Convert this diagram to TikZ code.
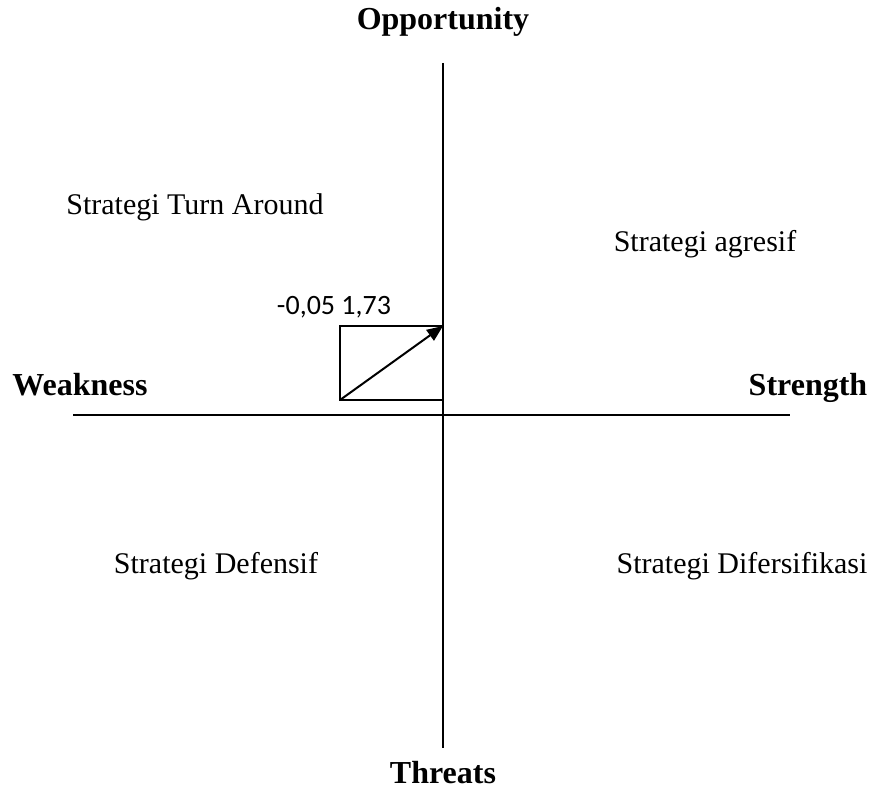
\documentclass[tikz,border=0pt]{standalone}
\usepackage{fontspec}
\setmainfont{Liberation Serif}
\newfontfamily\numfont{Carlito}
\usetikzlibrary{arrows.meta}
\tikzset{
  axis/.style={line width=1pt},
  quad/.style={font=\fontsize{15}{17}\selectfont},
  pole/.style={font=\fontsize{16}{18}\selectfont\bfseries}
}

\begin{document}
\begin{tikzpicture}[x=0.5pt,y=-0.5pt]
  \useasboundingbox (0,0) rectangle (877,791);
  % axes
  \coordinate (top) at (443,63);
  \coordinate (bot) at (443,748);
  \coordinate (lft) at (73,415);
  \coordinate (rgt) at (790,415);
  \draw[axis] (top) -- (bot);
  \draw[axis] (lft) -- (rgt);
  % axis ends
  \node[pole] (opp) at (443,22) {Opportunity};
  \node[pole] (thr) at (443,773) {Threats};
  \node[pole,anchor=base] (weak) at (80,395) {Weakness};
  \node[pole,anchor=base] (str) at (808,395) {Strength};
  % quadrants
  \node[quad] (ta) at (195,207) {Strategi Turn Around};
  \node[quad] (ag) at (705,244) {Strategi agresif};
  \node[quad] (def) at (216,566) {Strategi Defensif};
  \node[quad] (dif) at (742,566) {Strategi Difersifikasi};
  % position box and vector
  \coordinate (o) at (340,400);
  \coordinate (p) at (443,326);
  \draw[axis] (o) rectangle (p);
  \draw[axis,-{Triangle[length=8pt,width=6.5pt]}] (o) -- (p);
  \node[font=\numfont\fontsize{14}{16}\selectfont] (val) at (334,307) {-0,05 1,73};
\end{tikzpicture}
\end{document}
